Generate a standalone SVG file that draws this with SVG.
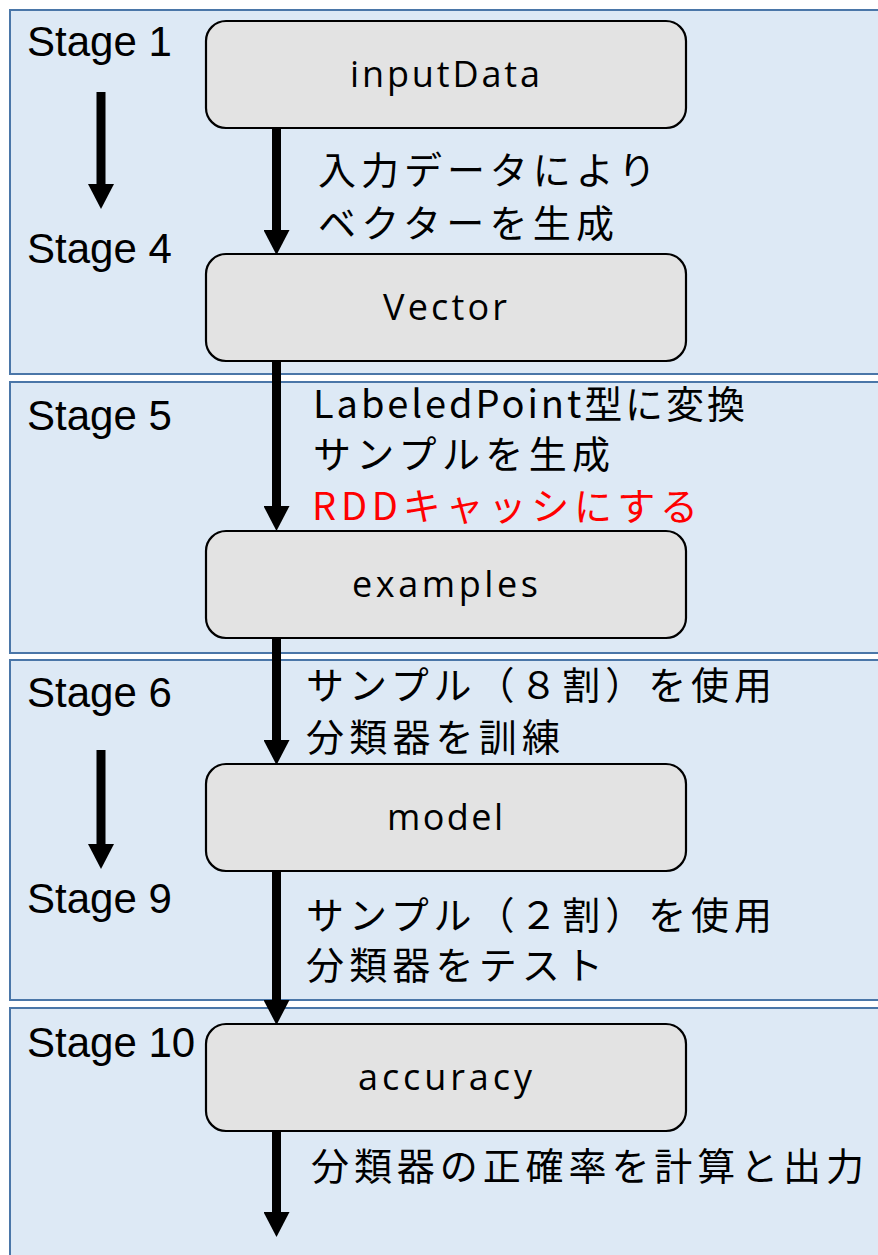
<svg xmlns="http://www.w3.org/2000/svg" width="878" height="1255" viewBox="0 0 878 1255">
<style>
.band{fill:#dde9f5;stroke:#4a76a8;stroke-width:2}
.node rect{fill:#e3e3e3;stroke:#000;stroke-width:2.2}
.nl{font-family:"Open Sans","Noto Sans","Liberation Sans",sans-serif;font-size:36px;fill:#000;text-anchor:middle}
.st{font-family:"Liberation Sans","Noto Sans",sans-serif;font-size:42px;fill:#000}
.jp{font-family:"Noto Sans CJK JP","Noto Sans",sans-serif;font-size:38px;fill:#000}
.red{fill:#ff0000}
.conn line{stroke:#000;stroke-width:9}
</style>
<defs>
<marker id="ah" viewBox="0 0 25 26" refX="0" refY="13" markerWidth="25" markerHeight="26" markerUnits="userSpaceOnUse" orient="auto">
<path d="M0,0 L25,13 L0,26 z" fill="#000"/>
</marker>
</defs>
<rect width="878" height="1255" fill="#ffffff"/>
<g id="bands">
<rect class="band" x="10" y="10" width="900" height="364"/>
<rect class="band" x="10" y="382" width="900" height="271"/>
<rect class="band" x="10" y="660" width="900" height="340"/>
<rect class="band" x="10" y="1008" width="900" height="300"/>
</g>
<g id="stage-labels">
<text class="st" x="27" y="56">Stage 1</text>
<text class="st" x="27" y="263">Stage 4</text>
<text class="st" x="27" y="430">Stage 5</text>
<text class="st" x="27" y="707">Stage 6</text>
<text class="st" x="27" y="913">Stage 9</text>
<text class="st" x="27" y="1057">Stage 10</text>
</g>
<g id="connectors" class="conn">
<line x1="276.5" y1="128" x2="276.5" y2="230" marker-end="url(#ah)"/>
<line x1="276.5" y1="361" x2="276.5" y2="506" marker-end="url(#ah)"/>
<line x1="276.5" y1="638" x2="276.5" y2="740" marker-end="url(#ah)"/>
<line x1="276.5" y1="872" x2="276.5" y2="1000" marker-end="url(#ah)"/>
<line x1="276.5" y1="1131" x2="276.5" y2="1212" marker-end="url(#ah)"/>
<line x1="101" y1="92" x2="101" y2="184" marker-end="url(#ah)"/>
<line x1="101" y1="750" x2="101" y2="844" marker-end="url(#ah)"/>
</g>
<g id="inputData" class="node">
<rect x="206" y="21" width="480" height="107" rx="20"/>
<text class="nl" x="445" y="87" textLength="190" lengthAdjust="spacing">inputData</text>
</g>
<g id="Vector" class="node">
<rect x="206" y="254" width="480" height="107" rx="20"/>
<text class="nl" x="445" y="320" textLength="124" lengthAdjust="spacing">Vector</text>
</g>
<g id="examples" class="node">
<rect x="206" y="531" width="480" height="107" rx="20"/>
<text class="nl" x="445" y="597" textLength="186" lengthAdjust="spacing">examples</text>
</g>
<g id="model" class="node">
<rect x="206" y="764" width="480" height="107" rx="20"/>
<text class="nl" x="445" y="830" textLength="116" lengthAdjust="spacing">model</text>
</g>
<g id="accuracy" class="node">
<rect x="206" y="1024" width="480" height="107" rx="20"/>
<text class="nl" x="445" y="1090" textLength="174" lengthAdjust="spacing">accuracy</text>
</g>
<g id="edge-labels">
<text class="jp" x="318" y="184" textLength="338" lengthAdjust="spacing">入力データにより</text>
<text class="jp" x="318" y="237" textLength="296" lengthAdjust="spacing">ベクターを生成</text>
<text class="jp" x="313" y="418" textLength="432" lengthAdjust="spacing">LabeledPoint型に変換</text>
<text class="jp" x="313" y="468" textLength="297" lengthAdjust="spacing">サンプルを生成</text>
<text class="jp red" x="312" y="520" textLength="386" lengthAdjust="spacing">RDDキャッシにする</text>
<text class="jp" x="306" y="699" textLength="466" lengthAdjust="spacing">サンプル（８割）を使用</text>
<text class="jp" x="306" y="751" textLength="254" lengthAdjust="spacing">分類器を訓練</text>
<text class="jp" x="306" y="929" textLength="466" lengthAdjust="spacing">サンプル（２割）を使用</text>
<text class="jp" x="306" y="979" textLength="297" lengthAdjust="spacing">分類器をテスト</text>
<text class="jp" x="311" y="1180" textLength="553" lengthAdjust="spacing">分類器の正確率を計算と出力</text>
</g>
</svg>
